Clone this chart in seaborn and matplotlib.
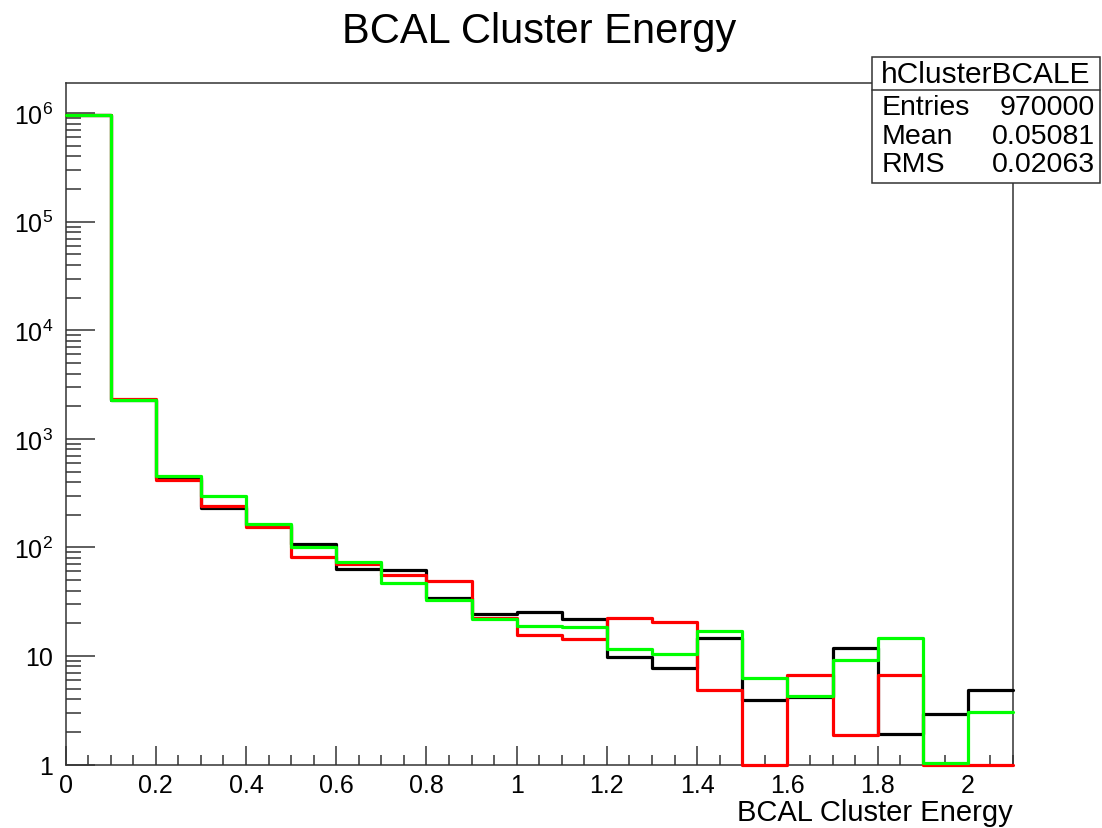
import numpy as np
import pandas as pd
import matplotlib
matplotlib.use("Agg")
import matplotlib.pyplot as plt
from matplotlib.patches import Rectangle
from matplotlib.lines import Line2D
from matplotlib.ticker import FixedLocator, FixedFormatter, MultipleLocator, NullFormatter
import seaborn as sns

# ---------------- data ----------------
bin_edges = [0.0, 0.1, 0.2, 0.3, 0.4, 0.5, 0.6, 0.7, 0.8, 0.9, 1.0,
             1.1, 1.2, 1.3, 1.4, 1.5, 1.6, 1.7, 1.8, 1.9, 2.0, 2.1]
black_counts = [966000, 2270, 433, 230, 160, 107, 63, 62, 34, 24.3, 25.5,
                21.7, 9.7, 7.8, 14.7, 3.9, 4.2, 11.9, 1.9, 2.9, 4.9]
red_counts = [968000, 2350, 420, 243, 155, 81, 70, 56, 49, 22.6, 15.6,
              14.4, 22.5, 20.6, 4.9, 0, 6.7, 1.86, 6.7, 0, 0]
green_counts = [970000, 2260, 459, 296, 165, 100, 74, 46.6, 32.5, 21.8, 18.9,
                18.5, 11.6, 10.4, 17.0, 6.2, 4.3, 9.2, 14.7, 1.03, 3.07]
series_colors = {"black": "#000000", "red": "#ff0000", "green": "#00ff00"}

y_tick_values = [1, 10, 100, 1000, 10000, 100000, 1000000]
y_tick_labels = ["1", "10", r"$10^{2}$", r"$10^{3}$", r"$10^{4}$", r"$10^{5}$", r"$10^{6}$"]
x_tick_values = [0, 0.2, 0.4, 0.6, 0.8, 1.0, 1.2, 1.4, 1.6, 1.8, 2.0]
x_tick_labels = ["0", "0.2", "0.4", "0.6", "0.8", "1", "1.2", "1.4", "1.6", "1.8", "2"]

title_text = "BCAL Cluster Energy"
xlabel_text = "BCAL Cluster Energy"
stats_name = "hClusterBCALE"
stats_rows = [("Entries", "970000"), ("Mean", "0.05081"), ("RMS", "0.02063")]

y_floor = 1.0
y_top = 1.9e6

# ---------------- figure ----------------
sns.set_theme(style="white")
plt.rcParams["font.family"] = ["Liberation Sans", "DejaVu Sans"]
plt.rcParams["mathtext.fontset"] = "custom"
plt.rcParams["mathtext.rm"] = "Liberation Sans"
plt.rcParams["mathtext.it"] = "Liberation Sans"
plt.rcParams["mathtext.default"] = "regular"
plt.rcParams["text.color"] = "black"
plt.rcParams["xtick.color"] = "#333333"
plt.rcParams["ytick.color"] = "#333333"
plt.rcParams["xtick.labelcolor"] = "black"
plt.rcParams["ytick.labelcolor"] = "black"

W, H = 1102, 829
fig = plt.figure(figsize=(W / 100, H / 100), dpi=100)
ax_l, ax_r, ax_t, ax_b = 65.5, 1013, 84, 765.5
ax = fig.add_axes([ax_l / W, 1 - ax_b / H, (ax_r - ax_l) / W, (ax_b - ax_t) / H])
ax.set_yscale("log")

edges = np.array(bin_edges)
centers = (edges[:-1] + edges[1:]) / 2
frames = []
for name, vals in [("black", black_counts), ("red", red_counts), ("green", green_counts)]:
    # ROOT draws empty bins on the floor of a log axis
    shown = np.clip(np.array(vals, dtype=float), y_floor, None)
    frames.append(pd.DataFrame({"energy": centers, "count": shown, "series": name}))
df = pd.concat(frames, ignore_index=True)

for i, name in enumerate(["black", "red", "green"]):
    sub = df[df["series"] == name]
    sns.histplot(data=sub, x="energy", weights="count", bins=list(bin_edges), element="step",
                 fill=False, color=series_colors[name], linewidth=2.3, ax=ax,
                 zorder=3 + i, clip_on=False)

ax.set_xlim(0, 2.1)
ax.set_ylim(y_floor, y_top)

ax.yaxis.set_major_locator(FixedLocator(y_tick_values))
ax.yaxis.set_major_formatter(FixedFormatter(y_tick_labels))
minor_y = [m * 10 ** d for d in range(0, 6) for m in range(2, 10)]
ax.yaxis.set_minor_locator(FixedLocator(minor_y))
ax.yaxis.set_minor_formatter(NullFormatter())

ax.xaxis.set_major_locator(FixedLocator(x_tick_values))
ax.xaxis.set_major_formatter(FixedFormatter(x_tick_labels))
ax.xaxis.set_minor_locator(MultipleLocator(0.05))

ax.tick_params(axis="both", which="both", direction="in", top=False, right=False,
               bottom=True, left=True, color="#333333", width=1.1)
ax.tick_params(axis="y", which="major", length=21, labelsize=18, pad=9)
ax.tick_params(axis="y", which="minor", length=11)
ax.tick_params(axis="x", which="major", length=13.5, labelsize=18, pad=6)
ax.tick_params(axis="x", which="minor", length=7.5)

for sp in ax.spines.values():
    sp.set_color("#333333")
    sp.set_linewidth(1.1)
    sp.set_visible(True)

ax.set_xlabel("")
ax.set_ylabel("")
ax.grid(False)

fig.text(539 / W, 1 - 43 / H, title_text, ha="center", va="baseline", fontsize=30)
fig.text(ax_r / W, 1 - 821 / H, xlabel_text, ha="right", va="baseline", fontsize=21)

# stats box
bx0, bx1, by0, by1, bdiv = 871.5, 1099.5, 57.5, 183.5, 90.5
fig.add_artist(Rectangle((bx0 / W, 1 - by1 / H), (bx1 - bx0) / W, (by1 - by0) / H,
                         transform=fig.transFigure, facecolor="white",
                         edgecolor="#333333", linewidth=1.1, zorder=5))
fig.add_artist(Line2D([bx0 / W, bx1 / W], [1 - bdiv / H, 1 - bdiv / H],
                      transform=fig.transFigure, color="#333333", linewidth=1.1, zorder=6))
fig.text((bx0 + bx1) / 2 / W, 1 - 83.5 / H, stats_name, ha="center", va="baseline",
         fontsize=21.5, zorder=7)
row_base = [115, 143.5, 172]
for (lab, val), yy in zip(stats_rows, row_base):
    fig.text(882 / W, 1 - yy / H, lab, ha="left", va="baseline", fontsize=20.5, zorder=7)
    fig.text(1095 / W, 1 - yy / H, val, ha="right", va="baseline", fontsize=20.5, zorder=7)

fig.savefig("out.png", dpi=100, facecolor="white")
